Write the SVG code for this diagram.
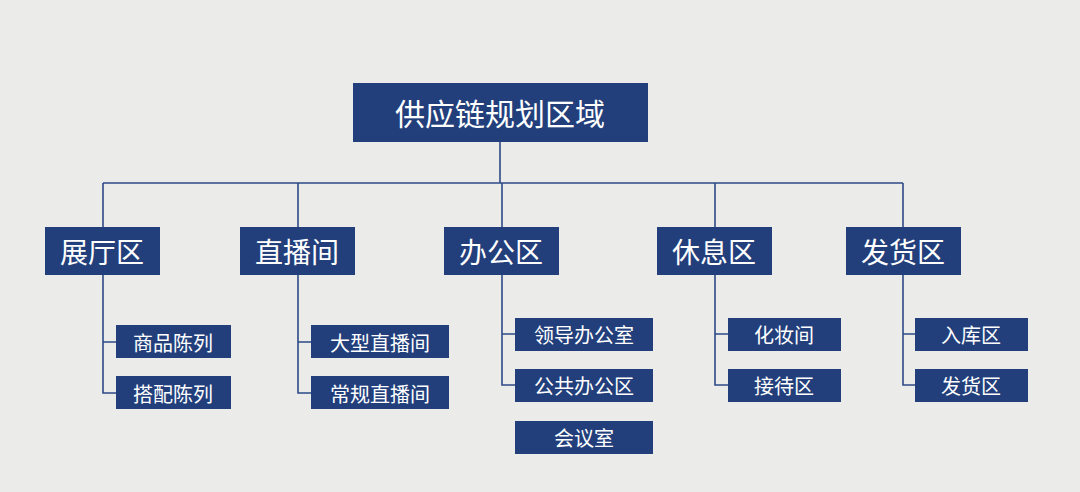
<svg xmlns="http://www.w3.org/2000/svg" width="1080" height="492" viewBox="0 0 1080 492">
<style>
.b{fill:#223f7c}
.t{fill:#fff;font-family:"Noto Sans CJK SC","Noto Sans",sans-serif;text-anchor:middle;dominant-baseline:central}
.c{stroke:#2d4a86;stroke-width:1.6;fill:none}
</style>
<rect width="1080" height="492" fill="#ebebea"/>
<g id="connectors" class="c">
<path d="M500 142V183M103 183H903M103 183V227M298 183V227M502 183V227M715 183V227M903 183V227"/>
<path d="M103 275V393H116M103 342H116"/>
<path d="M298 275V393H311M298 342H311"/>
<path d="M502 275V385H515M502 334H515"/>
<path d="M715 275V385H728M715 334H728"/>
<path d="M903 275V385H915M903 334H915"/>
</g>
<g id="root"><rect class="b" x="353" y="83" width="295" height="59"/><text class="t" x="500" y="112" font-size="30">供应链规划区域</text></g>
<g id="n1"><rect class="b" x="45" y="227" width="115" height="48"/><text class="t" x="102" y="251" font-size="28">展厅区</text></g>
<g id="n2"><rect class="b" x="240" y="227" width="115" height="48"/><text class="t" x="297" y="251" font-size="28">直播间</text></g>
<g id="n3"><rect class="b" x="444" y="227" width="115" height="48"/><text class="t" x="501" y="251" font-size="28">办公区</text></g>
<g id="n4"><rect class="b" x="657" y="227" width="115" height="48"/><text class="t" x="714" y="251" font-size="28">休息区</text></g>
<g id="n5"><rect class="b" x="846" y="227" width="115" height="48"/><text class="t" x="903" y="251" font-size="28">发货区</text></g>
<g id="l1"><rect class="b" x="116" y="325" width="115" height="33"/><text class="t" x="173" y="342" font-size="20">商品陈列</text></g>
<g id="l2"><rect class="b" x="116" y="376" width="115" height="33"/><text class="t" x="173" y="393" font-size="20">搭配陈列</text></g>
<g id="l3"><rect class="b" x="311" y="325" width="138" height="33"/><text class="t" x="380" y="342" font-size="20">大型直播间</text></g>
<g id="l4"><rect class="b" x="311" y="376" width="138" height="33"/><text class="t" x="380" y="393" font-size="20">常规直播间</text></g>
<g id="l5"><rect class="b" x="515" y="318" width="138" height="33"/><text class="t" x="584" y="334" font-size="20">领导办公室</text></g>
<g id="l6"><rect class="b" x="515" y="369" width="138" height="33"/><text class="t" x="584" y="385" font-size="20">公共办公区</text></g>
<g id="l7"><rect class="b" x="515" y="421" width="138" height="33"/><text class="t" x="584" y="437" font-size="20">会议室</text></g>
<g id="l8"><rect class="b" x="728" y="318" width="113" height="33"/><text class="t" x="784" y="334" font-size="20">化妆间</text></g>
<g id="l9"><rect class="b" x="728" y="369" width="113" height="33"/><text class="t" x="784" y="385" font-size="20">接待区</text></g>
<g id="l10"><rect class="b" x="915" y="318" width="113" height="33"/><text class="t" x="971" y="334" font-size="20">入库区</text></g>
<g id="l11"><rect class="b" x="915" y="369" width="113" height="33"/><text class="t" x="971" y="385" font-size="20">发货区</text></g>
</svg>
